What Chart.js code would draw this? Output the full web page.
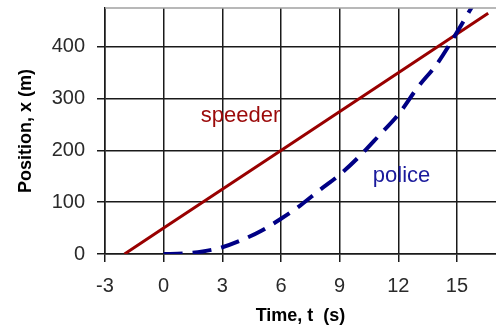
<!DOCTYPE html>
<html>
<head>
<meta charset="utf-8">
<script src="https://cdn.jsdelivr.net/npm/chart.js@4/dist/chart.umd.min.js"></script>
<style>
  html, body { margin: 0; padding: 0; background: #fff; }
  #wrap { width: 496px; height: 331px; }
</style>
</head>
<body>
<div id="wrap"><canvas id="posChart"></canvas></div>
<script>
// --- données ---
const speederTime = [-2, 0, 6, 16.6];
const speederPos = [0, 50, 200, 465];

const policeTime = [0, 1, 2, 3, 4, 5, 6, 7, 8, 9, 10, 11, 12, 13, 14, 15, 16];
const policePos = [0, 1, 5, 13, 27, 45, 68, 94, 124, 153, 188, 228, 269, 322, 368, 428, 492];

const xTicks = [-3, 0, 3, 6, 9, 12, 15];
const yTicks = [0, 100, 200, 300, 400];

const xRange = [-3, 17];
const yRange = [0, 475];

// étiquettes posées dans le repère des données
const seriesLabels = [
    { text: 'speeder', t: 1.9, x: 255, color: '#9b0a0a' },
    { text: 'police', t: 10.7, x: 139, color: '#1a1a9c' }
];

const toPoints = (xs, ys) => xs.map((v, i) => ({ x: v, y: ys[i] }));

const FONT = '"Liberation Sans", Arial, sans-serif';

// cadre gris en haut + étiquettes des séries
const extras = {
    id: 'extras',
    afterDraw(chart) {
        const { ctx, chartArea, scales } = chart;
        ctx.save();
        ctx.strokeStyle = '#a0a0a0';
        ctx.lineWidth = 1.5;
        ctx.beginPath();
        ctx.moveTo(chartArea.left, chartArea.top);
        ctx.lineTo(chartArea.right, chartArea.top);
        ctx.stroke();

        ctx.font = '22px ' + FONT;
        ctx.textBaseline = 'alphabetic';
        ctx.textAlign = 'left';
        seriesLabels.forEach(l => {
            ctx.fillStyle = l.color;
            ctx.fillText(l.text, scales.x.getPixelForValue(l.t), scales.y.getPixelForValue(l.x));
        });
        ctx.restore();
    }
};

new Chart(document.getElementById('posChart'), {
    type: 'scatter',
    data: {
        datasets: [
            {
                label: 'speeder',
                data: toPoints(speederTime, speederPos),
                showLine: true,
                borderColor: '#990000',
                borderWidth: 3,
                pointRadius: 0,
                order: 2
            },
            {
                label: 'police',
                data: toPoints(policeTime, policePos),
                showLine: true,
                borderColor: '#000085',
                borderWidth: 4,
                borderDash: [19, 10],
                borderCapStyle: 'butt',
                cubicInterpolationMode: 'monotone',
                pointRadius: 0,
                order: 1
            }
        ]
    },
    options: {
        responsive: true,
        maintainAspectRatio: false,
        animation: false,
        layout: { padding: { top: 8, right: 0, left: 0, bottom: 0 } },
        plugins: {
            legend: { display: false },
            tooltip: { enabled: false }
        },
        scales: {
            x: {
                type: 'linear',
                min: xRange[0],
                max: xRange[1],
                afterBuildTicks: s => { s.ticks = xTicks.map(v => ({ value: v })); },
                afterFit: s => { s.height = 77; s.paddingLeft = 0; s.paddingRight = 0; },
                grid: { color: '#1a1a1a', lineWidth: 1.5, tickLength: 8 },
                border: { color: '#1a1a1a', width: 1.5 },
                ticks: { color: '#2a2a2a', font: { family: FONT, size: 20 }, padding: 12, maxRotation: 0 },
                title: {
                    display: true,
                    text: 'Time, t  (s)',
                    color: '#000',
                    font: { family: FONT, size: 18, weight: 'bold' },
                    padding: { top: 0, bottom: 4 }
                }
            },
            y: {
                type: 'linear',
                min: yRange[0],
                max: yRange[1],
                afterBuildTicks: s => { s.ticks = yTicks.map(v => ({ value: v })); },
                afterFit: s => { s.width = 105; s.paddingTop = 0; s.paddingBottom = 0; },
                grid: { color: '#1a1a1a', lineWidth: 1.5, tickLength: 8 },
                border: { color: '#1a1a1a', width: 1.5 },
                ticks: { color: '#2a2a2a', font: { family: FONT, size: 20 }, padding: 12 },
                title: {
                    display: true,
                    text: 'Position, x (m)',
                    color: '#000',
                    font: { family: FONT, size: 18, weight: 'bold' },
                    padding: { top: 15, bottom: 6 }
                }
            }
        }
    },
    plugins: [extras]
});
</script>
</body>
</html>
